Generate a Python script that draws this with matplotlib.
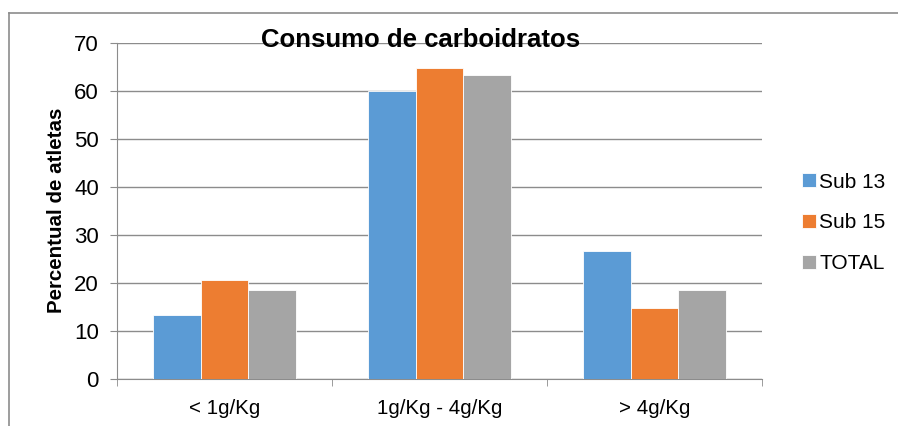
import numpy as np
from matplotlib import pyplot as plt
from matplotlib.lines import Line2D

categories = ['< 1g/Kg', '1g/Kg - 4g/Kg', '> 4g/Kg']
sub13 = [13.3, 60.0, 26.7]
sub15 = [20.6, 64.7, 14.7]
total = [18.4, 63.3, 18.4]
series_names = ['Sub 13', 'Sub 15', 'TOTAL']
colors = ['#5B9BD5', '#ED7D31', '#A5A5A5']

plt.rcParams['font.family'] = ['Liberation Sans', 'DejaVu Sans']

fig = plt.figure(figsize=(8.98, 4.26), dpi=100)
ax = fig.add_axes([117/898, 1 - 378.7/426, 645/898, 336/426])

x = np.arange(len(categories))
w = 0.222
for i, (vals, name, c) in enumerate(zip([sub13, sub15, total], series_names, colors)):
    ax.bar(x + (i - 1) * w, vals, width=w, color=c, label=name,
           edgecolor='white', linewidth=0.6, zorder=3)

ax.set_xlim(-0.5, 2.5)
ax.set_ylim(0, 70)
ax.set_yticks(range(0, 71, 10))
ax.set_xticks(x)
ax.set_xticklabels(categories)
# category boundary ticks
ax.set_xticks([-0.5, 0.5, 1.5, 2.5], minor=True)
ax.tick_params(axis='x', which='major', length=0, labelsize=14.8, pad=14.5)
ax.tick_params(axis='x', which='minor', length=5, color='#8c8c8c', direction='out')
ax.tick_params(axis='y', length=5, color='#8c8c8c', labelsize=16, pad=8)
ax.grid(axis='y', color='#8c8c8c', linewidth=1.0, zorder=0)
for s in ['top', 'right']:
    ax.spines[s].set_visible(False)
for s in ['left', 'bottom']:
    ax.spines[s].set_color('#8c8c8c')

ax.set_ylabel('Percentual de atletas', fontsize=14.8, fontweight='bold', labelpad=6)
fig.text(421/898, 1 - 40/426, 'Consumo de carboidratos', fontsize=18.5,
         fontweight='bold', ha='center', va='center')

fig.legend(*ax.get_legend_handles_labels(), loc='center left',
           bbox_to_anchor=(802/898, 1 - 223/426), frameon=False,
           borderpad=0, borderaxespad=0,
           fontsize=15, handlelength=0.67, handleheight=0.67, handletextpad=0.15,
           labelspacing=1.05)

# outer chart frame (left and top edges)
fig.add_artist(Line2D([9/898, 9/898], [0, 1 - 12.5/426], color='#8c8c8c', lw=1.2,
                      transform=fig.transFigure))
fig.add_artist(Line2D([9/898, 1], [1 - 12.5/426, 1 - 12.5/426], color='#8c8c8c', lw=1.2,
                      transform=fig.transFigure))

plt.savefig('out.png', dpi=100)
